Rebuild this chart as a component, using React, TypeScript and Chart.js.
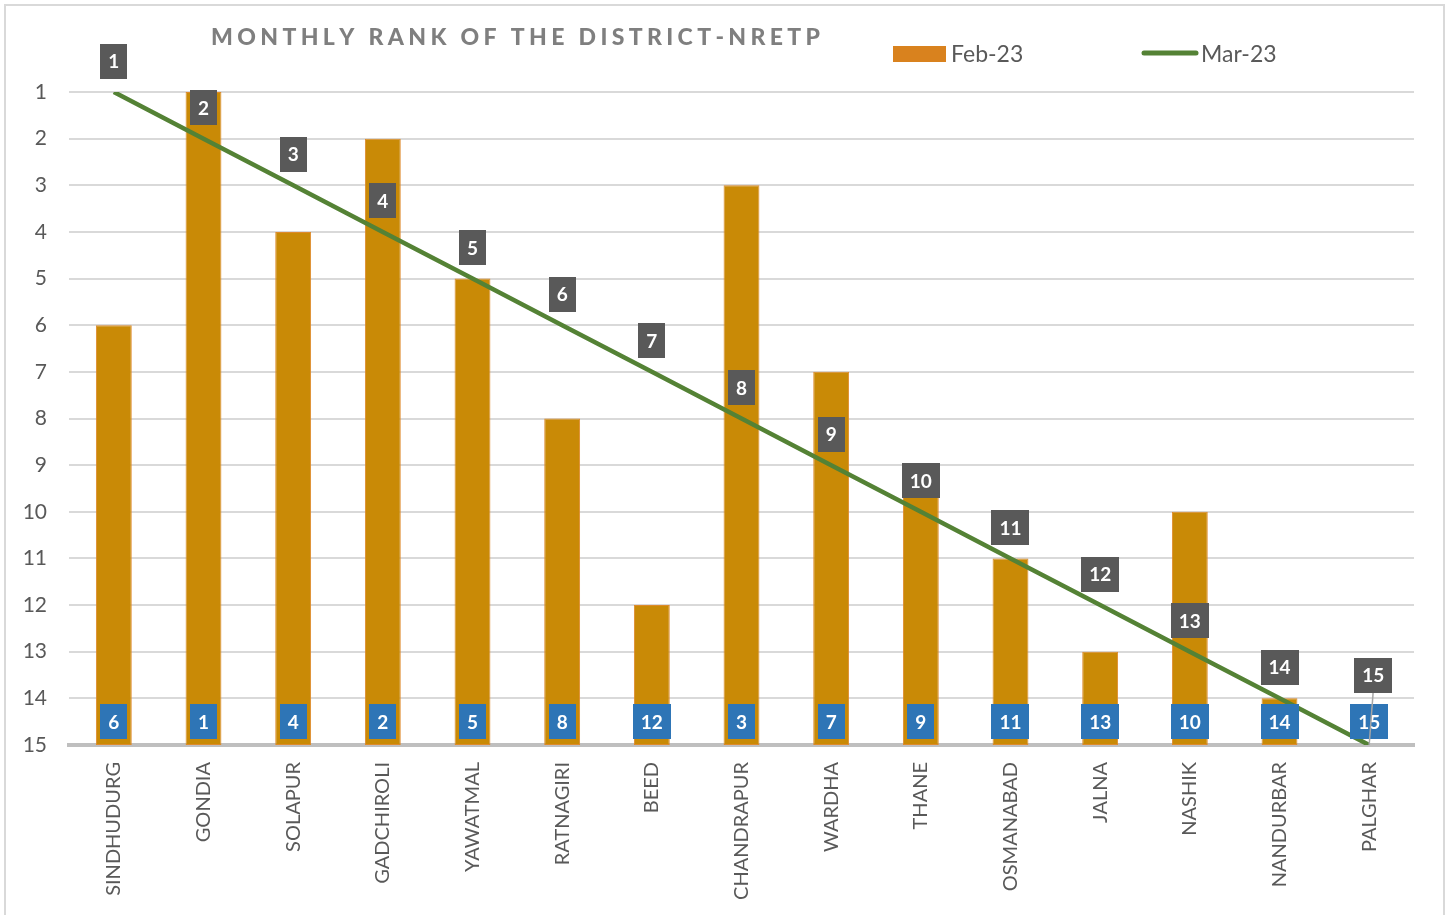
import React, { useEffect, useRef } from "react";
import { Chart, registerables } from "chart.js";

Chart.register(...registerables);

const TITLE = "MONTHLY RANK OF THE DISTRICT-NRETP";
const CATEGORIES = [
  "SINDHUDURG",
  "GONDIA",
  "SOLAPUR",
  "GADCHIROLI",
  "YAWATMAL",
  "RATNAGIRI",
  "BEED",
  "CHANDRAPUR",
  "WARDHA",
  "THANE",
  "OSMANABAD",
  "JALNA",
  "NASHIK",
  "NANDURBAR",
  "PALGHAR",
];
const FEB_LABEL = "Feb-23";
const MAR_LABEL = "Mar-23";
const FEB_RANKS = [6, 1, 4, 2, 5, 8, 12, 3, 7, 9, 11, 13, 10, 14, 15];
const MAR_RANKS = [1, 2, 3, 4, 5, 6, 7, 8, 9, 10, 11, 12, 13, 14, 15];
const RANK_MIN = 1;
const RANK_MAX = 15;

const FONT = "Lato, 'Open Sans', sans-serif";
const BAR_COLOR = "#C98A06";
const BAR_BORDER = "#DE8A2B";
const LEGEND_BAR = "#D9821E";
const LINE_COLOR = "#548235";
const FEB_BOX = "#2E75B6";
const MAR_BOX = "#595959";
const TEXT_COLOR = "#595959";

function drawBox(ctx: CanvasRenderingContext2D, text: string, cx: number, cy: number, fill: string) {
  ctx.save();
  ctx.font = `bold 19px ${FONT}`;
  const w = Math.round(ctx.measureText(text).width + 16);
  const h = 35;
  ctx.fillStyle = fill;
  ctx.fillRect(Math.round(cx - w / 2), Math.round(cy - h / 2), w, h);
  ctx.fillStyle = "#FFFFFF";
  ctx.textAlign = "center";
  ctx.textBaseline = "middle";
  ctx.fillText(text, cx, cy + 1);
  ctx.restore();
}

const labelsPlugin = {
  id: "boxLabels",
  afterDatasetsDraw(chart: any) {
    const ctx: CanvasRenderingContext2D = chart.ctx;
    const yScale = chart.scales.y;
    const barMeta = chart.getDatasetMeta(0);
    const lineMeta = chart.getDatasetMeta(1);
    const febY = yScale.getPixelForValue(RANK_MAX - 0.5);
    barMeta.data.forEach((bar: any, i: number) => {
      drawBox(ctx, String(FEB_RANKS[i]), bar.x, febY, FEB_BOX);
    });
    lineMeta.data.forEach((pt: any, i: number) => {
      const v = MAR_RANKS[i];
      if (v >= RANK_MAX) {
        const cx = pt.x + 4;
        const cy = pt.y - 70;
        ctx.save();
        ctx.strokeStyle = "#A6A6A6";
        ctx.lineWidth = 1.5;
        ctx.beginPath();
        ctx.moveTo(cx, cy + 17);
        ctx.lineTo(pt.x, pt.y);
        ctx.stroke();
        ctx.restore();
        drawBox(ctx, String(v), cx, cy, MAR_BOX);
      } else {
        drawBox(ctx, String(v), pt.x, pt.y - 31, MAR_BOX);
      }
    });
  },
};

const headerPlugin = {
  id: "header",
  afterDraw(chart: any) {
    const ctx: CanvasRenderingContext2D = chart.ctx;
    ctx.save();
    // Title with letter spacing
    ctx.font = `900 23px ${FONT}`;
    ctx.fillStyle = "#7F7F7F";
    ctx.textAlign = "left";
    ctx.textBaseline = "alphabetic";
    const chars = TITLE.split("");
    const widths = chars.map((c) => ctx.measureText(c).width);
    const total = widths.reduce((a, b) => a + b, 0);
    const startX = 211;
    const endX = 820;
    const spacing = (endX - startX - total) / (chars.length - 1);
    let x = startX;
    chars.forEach((c, i) => {
      ctx.fillText(c, x, 45);
      x += widths[i] + spacing;
    });

    // Legend
    ctx.font = `23px ${FONT}`;
    ctx.fillStyle = LEGEND_BAR;
    ctx.fillRect(893, 46, 53, 16);
    ctx.fillStyle = TEXT_COLOR;
    ctx.fillText(FEB_LABEL, 951, 62);

    ctx.strokeStyle = LINE_COLOR;
    ctx.lineWidth = 5;
    ctx.lineCap = "round";
    ctx.beginPath();
    ctx.moveTo(1144, 53);
    ctx.lineTo(1196, 53);
    ctx.stroke();
    ctx.fillStyle = TEXT_COLOR;
    ctx.fillText(MAR_LABEL, 1201, 62);
    ctx.restore();
  },
};

export default function App() {
  const canvasRef = useRef<HTMLCanvasElement | null>(null);

  useEffect(() => {
    if (!canvasRef.current) return;
    const chart = new Chart(canvasRef.current, {
      type: "bar",
      data: {
        labels: CATEGORIES,
        datasets: [
          {
            type: "bar",
            label: FEB_LABEL,
            data: FEB_RANKS.map((v) => [RANK_MAX, v]) as any,
            backgroundColor: BAR_COLOR,
            borderColor: BAR_BORDER,
            borderWidth: 1,
            borderSkipped: false,
            barPercentage: 0.4,
            categoryPercentage: 1,
            order: 2,
          },
          {
            type: "line",
            label: MAR_LABEL,
            data: MAR_RANKS,
            borderColor: LINE_COLOR,
            backgroundColor: LINE_COLOR,
            borderWidth: 4.5,
            pointRadius: 0,
            tension: 0,
            order: 1,
          } as any,
        ],
      },
      options: {
        responsive: false,
        animation: false,
        devicePixelRatio: 1,
        layout: { padding: { left: 0, right: 38, top: 92, bottom: 0 } },
        plugins: {
          legend: { display: false },
          title: { display: false },
          tooltip: { enabled: false },
        },
        scales: {
          x: {
            grid: { display: false },
            border: { display: true, color: "#BFBFBF", width: 4 },
            ticks: {
              autoSkip: false,
              maxRotation: 90,
              minRotation: 90,
              padding: 9,
              color: TEXT_COLOR,
              font: { family: FONT, size: 20 },
            },
            afterFit: (s: any) => {
              s.height = 170;
            },
          },
          y: {
            min: RANK_MIN,
            max: RANK_MAX,
            reverse: true,
            ticks: {
              stepSize: 1,
              padding: 22,
              color: TEXT_COLOR,
              font: { family: FONT, size: 21 },
            },
            grid: { color: "#D9D9D9", lineWidth: 2, drawTicks: false },
            border: { display: false },
            afterFit: (s: any) => {
              s.width = 69;
            },
          },
        },
      } as any,
      plugins: [labelsPlugin, headerPlugin],
    });
    return () => chart.destroy();
  }, []);

  return (
    <div
      style={{
        position: "fixed",
        left: 0,
        top: 0,
        width: 1452,
        height: 915,
        background: "#FFFFFF",
        overflow: "hidden",
      }}
    >
      <div
        style={{
          position: "absolute",
          left: 4,
          top: 4,
          width: 1441,
          height: 960,
          border: "2px solid #D9D9D9",
          boxSizing: "border-box",
        }}
      />
      <canvas
        ref={canvasRef}
        width={1452}
        height={915}
        style={{ position: "absolute", left: 0, top: 0 }}
      />
    </div>
  );
}
